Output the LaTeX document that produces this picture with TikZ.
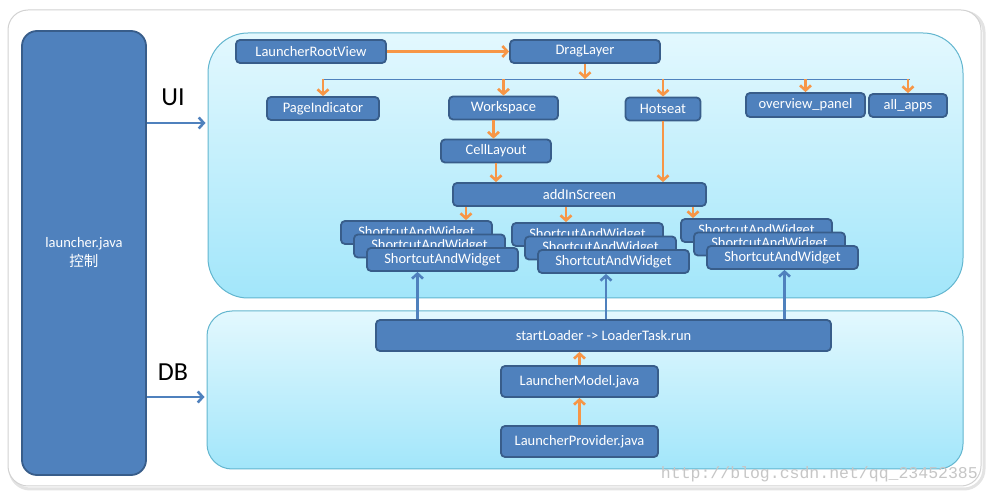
\documentclass[tikz,border=0pt]{standalone}
\usepackage{fontspec}
\setmainfont{Carlito}
\newfontfamily\cjk{Noto Sans CJK SC}
\newfontfamily\markfont{Liberation Mono}
\usetikzlibrary{arrows.meta}

\definecolor{boxfill}{HTML}{4F81BD}
\definecolor{boxline}{HTML}{385D8A}
\definecolor{arroworange}{HTML}{F79646}
\definecolor{paneltop}{HTML}{E3F8FE}
\definecolor{panelbottom}{HTML}{A2E6FA}
\definecolor{panelline}{HTML}{63B6CF}

\tikzset{
	box/.style={draw=boxline, fill=boxfill, line width=1.8pt, rounded corners=4pt, text=white,
		font=\fontsize{14.5}{17}\selectfont, inner sep=0pt, minimum height=23pt},
	panel/.style={draw=panelline, line width=1pt, top color=paneltop, bottom color=panelbottom, inner sep=0pt},
	orangearrow/.style={draw=arroworange, line width=2.6pt, -{Straight Barb[length=5pt,width=11pt]}},
	bluearrow/.style={draw=boxfill, line width=2.6pt, -{Straight Barb[length=5pt,width=11pt]}},
	sidetext/.style={font=\fontsize{26}{28}\selectfont, inner sep=0pt}
}

\begin{document}
\begin{tikzpicture}[x=1pt,y=-1pt]
	\useasboundingbox (0,0) rectangle (989,494);
	\draw[gray!22, line width=3pt, rounded corners=20pt] (10,12) rectangle (984,489);
	\draw[gray!35, fill=white, line width=1pt, rounded corners=20pt] (8,10) rectangle (981,486);

	\node[box, rounded corners=15pt, minimum width=124pt, minimum height=444pt, align=center,
		font=\fontsize{14.5}{19}\selectfont] (launcher) at (84,253) {launcher.java\\{\cjk 控制}};
	\node[panel, rounded corners=40pt, minimum width=755pt, minimum height=265pt] (ui) at (585.5,165.5) {};
	\node[panel, rounded corners=25pt, minimum width=756pt, minimum height=158pt] (db) at (585,390) {};

	\node[sidetext] (uilabel) at (173,97) {UI};
	\node[sidetext] (dblabel) at (173,372) {DB};
	\coordinate (uiin) at ([yshift=42.5pt,xshift=-2pt]ui.west);
	\coordinate (dbin) at ([yshift=-7pt,xshift=-2pt]db.west);
	\draw[bluearrow] (launcher.east |- uiin) -- (uiin);
	\draw[bluearrow] (launcher.east |- dbin) -- (dbin);

	\node[box, minimum width=150pt] (root) at (311,51.5) {LauncherRootView};
	\node[box, minimum width=150pt] (drag) at (585,51.5) {DragLayer};
	\node[box, minimum width=112pt] (page) at (323,108.5) {PageIndicator};
	\node[box, minimum width=109pt] (work) at (503.5,108) {Workspace};
	\node[box, minimum width=75pt] (hot) at (663,109) {Hotseat};
	\node[box, minimum width=119pt, minimum height=24pt] (over) at (805.5,105) {overview\_panel};
	\node[box, minimum width=78pt] (apps) at (908,105.5) {all\_apps};
	\node[box, minimum width=110pt] (cell) at (496,151) {CellLayout};
	\node[box, minimum width=253pt] (add) at (579.5,194.5) {addInScreen};

	\foreach \n/\x/\y in {1/416.5/232.5, 2/587.5/234.5, 3/756.5/230.5}
		\foreach \k/\d in {a/0, b/1, c/2}
			\node[box, minimum width=151pt] (s\n\k) at (\x+13*\d,\y+13.5*\d) {ShortcutAndWidget};

	\node[box, minimum width=455pt, minimum height=31pt] (loader) at (603.5,335.5) {startLoader -> LoaderTask.run};
	\node[box, minimum width=157pt, minimum height=31pt] (model) at (579.5,381.5) {LauncherModel.java};
	\node[box, minimum width=157pt, minimum height=31pt] (provider) at (579.5,441.5) {LauncherProvider.java};

	\coordinate (busL) at (323,79);
	\coordinate (busR) at (910,79);
	\draw[boxfill, line width=0.9pt] (busL) -- (busR);
	\draw[orangearrow] (root.east) -- (drag.west);
	\draw[orangearrow] (drag.south) -- (drag.south |- busL);
	\foreach \b in {page, work, hot, over, apps}
		\draw[orangearrow] (\b.north |- busL) -- (\b.north);
	\draw[orangearrow] ([xshift=-10pt]work.south) -- ([xshift=-10pt]work.south |- cell.north);
	\draw[orangearrow] (cell.south) -- (cell.south |- add.north);
	\draw[orangearrow] (hot.south) -- (hot.south |- add.north);
	\foreach \n/\dx in {1/-113.5, 2/-13.5, 3/113.5}
		\draw[orangearrow] ([xshift=\dx pt]add.south) -- ([xshift=\dx pt]add.south |- s\n a.north);

	\foreach \n/\dx in {1/-25, 2/-7.5, 3/2}
		\draw[bluearrow] ([xshift=\dx pt]s\n c.south |- loader.north) -- ([xshift=\dx pt]s\n c.south);
	\draw[orangearrow] (model.north) -- (model.north |- loader.south);
	\draw[orangearrow] (provider.north) -- (model.south);

	\node[anchor=east, font=\markfont\fontsize{16.5}{18}\selectfont, text=gray!45, inner sep=0pt] (mark) at (978,474) {http://blog.csdn.net/qq\_23452385};
\end{tikzpicture}
\end{document}
